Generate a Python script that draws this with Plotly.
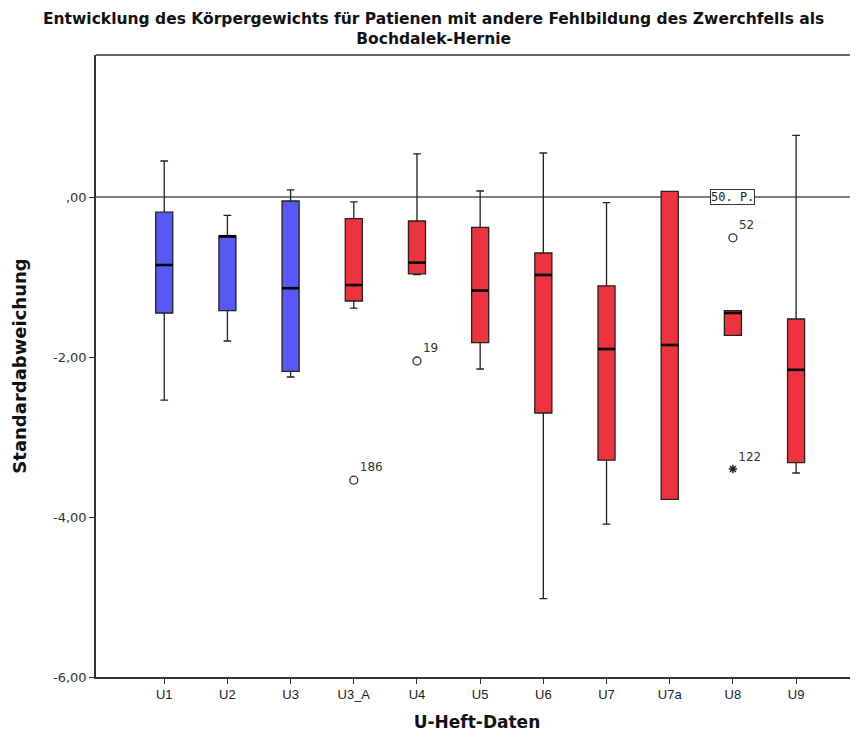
import plotly.graph_objects as go

categories = ["U1", "U2", "U3", "U3_A", "U4", "U5", "U6", "U7", "U7a", "U8", "U9"]
groups = ["blue", "blue", "blue", "red", "red", "red", "red", "red", "red", "red", "red"]
lower_whisker = [-2.54, -1.80, -2.25, -1.39, -0.97, -2.15, -5.02, -4.09, -3.78, -1.73, -3.45]
q1 = [-1.45, -1.42, -2.18, -1.30, -0.96, -1.82, -2.70, -3.29, -3.78, -1.73, -3.32]
median = [-0.85, -0.49, -1.14, -1.10, -0.82, -1.17, -0.975, -1.90, -1.85, -1.45, -2.16]
q3 = [-0.19, -0.49, -0.05, -0.27, -0.30, -0.38, -0.70, -1.11, 0.07, -1.42, -1.525]
upper_whisker = [0.45, -0.23, 0.09, -0.06, 0.54, 0.075, 0.55, -0.07, 0.07, -1.42, 0.77]

outlier_cat = ["U3_A", "U4", "U8"]
outlier_val = [-3.54, -2.05, -0.51]
outlier_lbl = ["186", "19", "52"]
extreme_cat = ["U8"]
extreme_val = [-3.40]
extreme_lbl = ["122"]

ref_value = 0.0
ref_label = "50. P."
ref_cat = "U8"

title_text = "<b>Entwicklung des Körpergewichts für Patienen mit andere Fehlbildung des Zwerchfells als<br>Bochdalek-Hernie</b>"

colors = {"blue": "#5858F6", "red": "#EE333D"}
box_w = 0.27

pos = {c: i for i, c in enumerate(categories)}

fig = go.Figure()
for i, c in enumerate(categories):
    fig.add_trace(go.Box(
        x=[i], q1=[q1[i]], median=[median[i]], q3=[q3[i]],
        lowerfence=[lower_whisker[i]], upperfence=[upper_whisker[i]],
        width=box_w, whiskerwidth=0.45, boxpoints=False,
        fillcolor=colors[groups[i]], line=dict(color="#222222", width=1.3),
        showlegend=False, hoverinfo="skip",
    ))
    fig.add_trace(go.Scatter(
        x=[i - box_w / 2, i + box_w / 2], y=[median[i], median[i]],
        mode="lines", line=dict(color="black", width=2.6),
        showlegend=False, hoverinfo="skip",
    ))

fig.add_trace(go.Scatter(
    x=[pos[c] for c in outlier_cat], y=outlier_val, mode="markers+text",
    marker=dict(symbol="circle-open", size=8, color="#333333", line=dict(width=1.3)),
    text=outlier_lbl, textposition="top right",
    textfont=dict(family="DejaVu Sans", size=12, color="#333333"),
    showlegend=False, hoverinfo="skip",
))
fig.add_trace(go.Scatter(
    x=[pos[c] for c in extreme_cat], y=extreme_val, mode="markers+text",
    marker=dict(symbol="asterisk-open", size=7, color="#222222", line=dict(width=1.5, color="#222222")),
    text=extreme_lbl, textposition="top right",
    textfont=dict(family="DejaVu Sans", size=12, color="#333333"),
    showlegend=False, hoverinfo="skip",
))

fig.add_shape(type="line", xref="paper", x0=0, x1=1, yref="y", y0=ref_value, y1=ref_value,
              line=dict(color="#555555", width=1.5), layer="below")
fig.add_shape(type="line", xref="paper", x0=0, x1=1, yref="paper", y0=1, y1=1,
              line=dict(color="#333333", width=1.5))
fig.add_annotation(x=pos[ref_cat], y=ref_value, text=ref_label, showarrow=False,
                   font=dict(family="DejaVu Sans Mono", size=12, color="#222222"),
                   bgcolor="white", bordercolor="#333333", borderwidth=1, borderpad=0)

# title as annotation (multi-line positioning is reliable this way)
fig.add_annotation(xref="paper", yref="paper", x=(425 - 88) / 762, y=1,
                   xanchor="center", yanchor="bottom", yshift=5,
                   text=title_text, showarrow=False,
                   font=dict(family="DejaVu Sans", size=15.5, color="#111111"))

fig.update_layout(
    width=850, height=730,
    margin=dict(l=88, r=0, t=47, b=61, autoexpand=False),
    paper_bgcolor="white", plot_bgcolor="white",
    xaxis=dict(
        range=[-1.08, 10.98], tickmode="array", tickvals=list(range(len(categories))),
        ticktext=categories, showgrid=False, zeroline=False, automargin=False,
        showline=True, linecolor="#333333", linewidth=1.5,
        ticks="outside", ticklen=5, tickcolor="#333333",
        tickfont=dict(family="Liberation Sans", size=13, color="#222222"),
        title=dict(text="<b>U-Heft-Daten</b>",
                   font=dict(family="DejaVu Sans", size=17, color="#111111")),
    ),
    yaxis=dict(
        range=[-6.0, 1.775], tickmode="array", tickvals=[0, -2, -4, -6],
        ticktext=[",00", "-2,00", "-4,00", "-6,00"], showgrid=False, zeroline=False,
        showline=True, linecolor="#333333", linewidth=1.5, automargin=False,
        ticks="outside", ticklen=5, tickcolor="#333333",
        tickfont=dict(family="DejaVu Sans", size=13, color="#333333"),
        title=dict(text="<b>Standardabweichung</b>", standoff=22,
                   font=dict(family="DejaVu Sans", size=18, color="#111111")),
    ),
)

fig.write_html("out.html")
